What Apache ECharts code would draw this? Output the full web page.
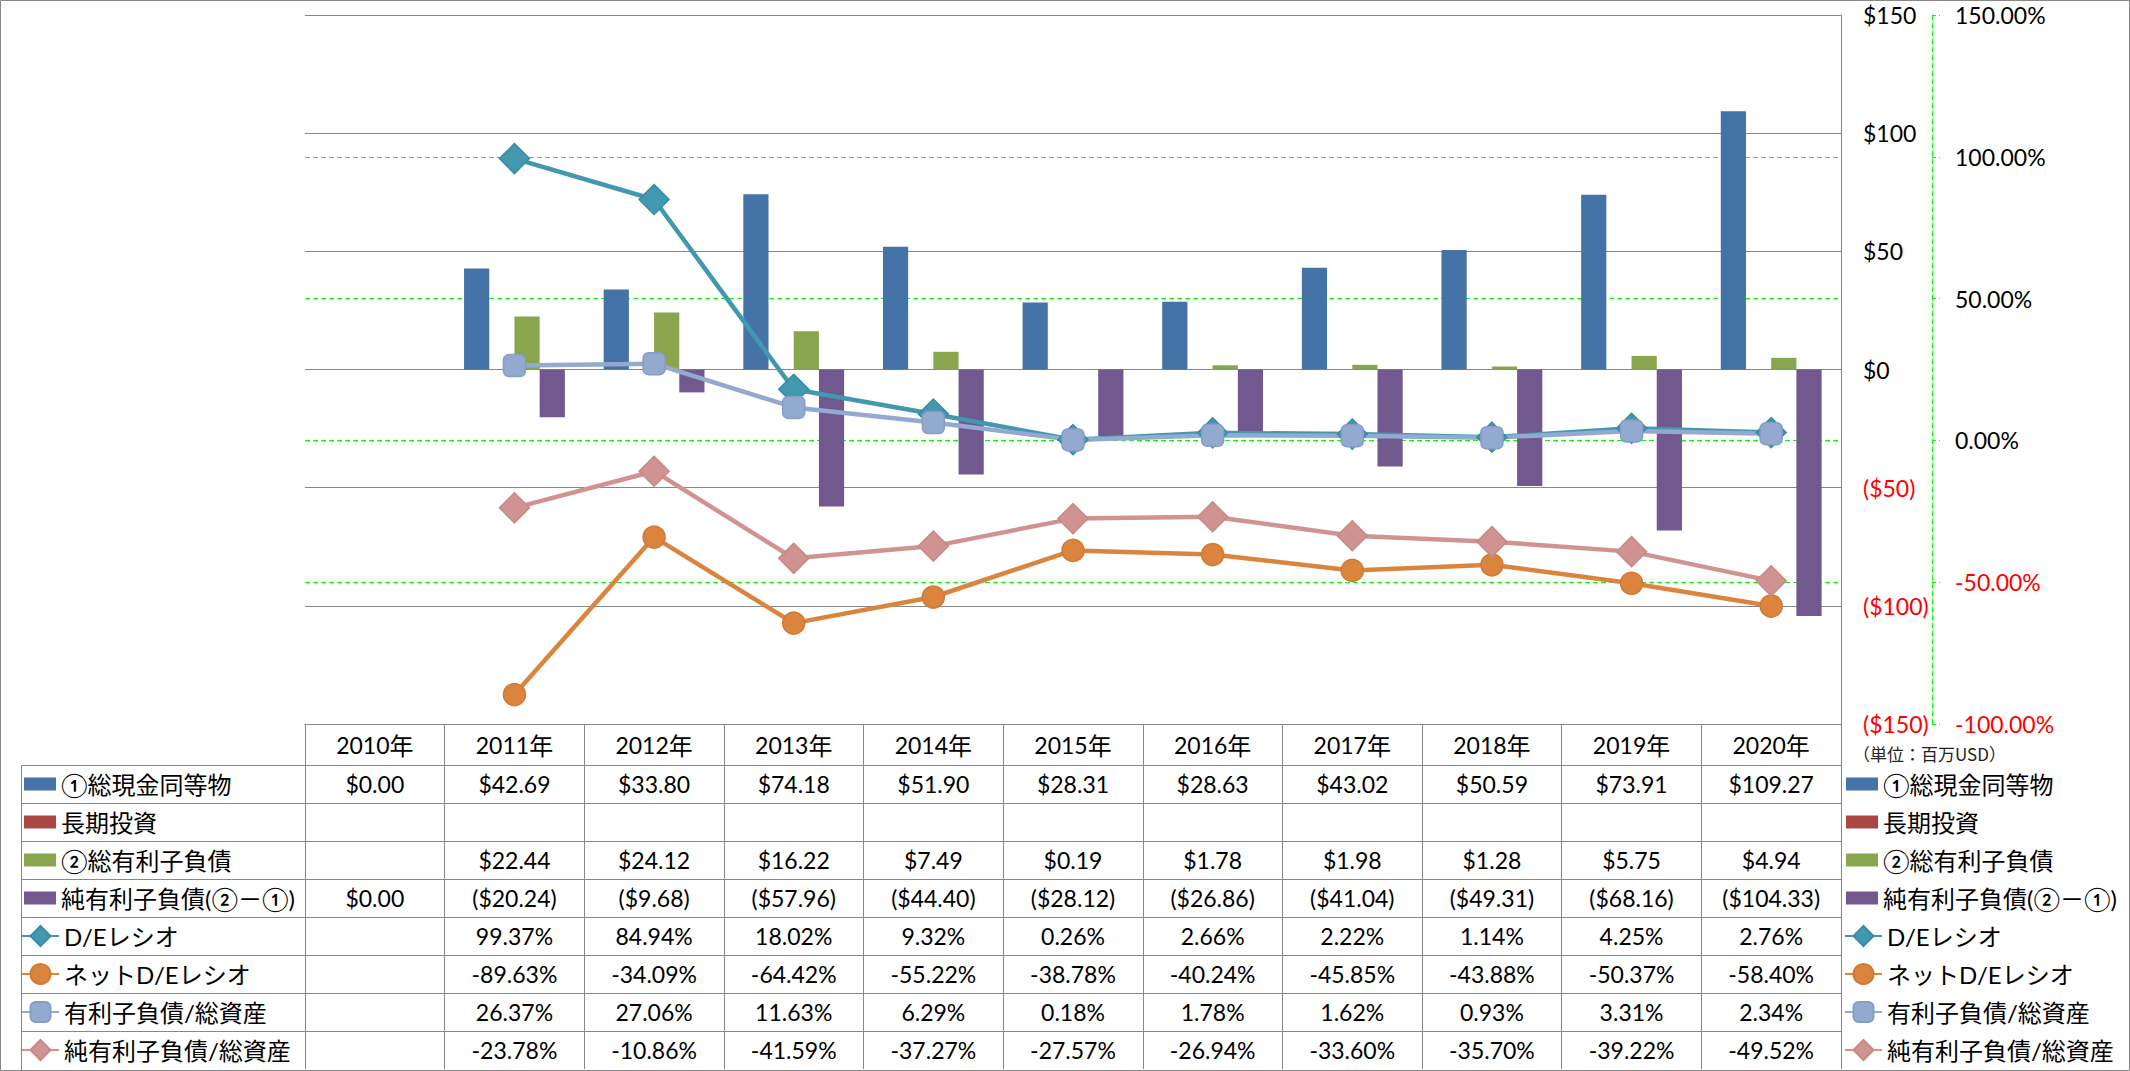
<!DOCTYPE html>
<html><head><meta charset="utf-8">
<script src="https://cdn.jsdelivr.net/npm/echarts@6/dist/echarts.min.js"></script>
<style>html,body{margin:0;padding:0;background:#fff}#c{width:2130px;height:1071px}</style>
</head><body><div id="c"></div>
<script>
// ---- data ----
const years = ['2010年','2011年','2012年','2013年','2014年','2015年','2016年','2017年','2018年','2019年','2020年'];
const cash          = [0.00, 42.69, 33.80, 74.18, 51.90, 28.31, 28.63, 43.02, 50.59, 73.91, 109.27];
const longInv       = [null, null, null, null, null, null, null, null, null, null, null];
const debt          = [null, 22.44, 24.12, 16.22, 7.49, 0.19, 1.78, 1.98, 1.28, 5.75, 4.94];
const netDebt       = [0.00, -20.24, -9.68, -57.96, -44.40, -28.12, -26.86, -41.04, -49.31, -68.16, -104.33];
const deRatio       = [null, 99.37, 84.94, 18.02, 9.32, 0.26, 2.66, 2.22, 1.14, 4.25, 2.76];
const netDeRatio    = [null, -89.63, -34.09, -64.42, -55.22, -38.78, -40.24, -45.85, -43.88, -50.37, -58.40];
const debtToAssets  = [null, 26.37, 27.06, 11.63, 6.29, 0.18, 1.78, 1.62, 0.93, 3.31, 2.34];
const netDebtToAssets = [null, -23.78, -10.86, -41.59, -37.27, -27.57, -26.94, -33.60, -35.70, -39.22, -49.52];

const barNames  = ['①総現金同等物','長期投資','②総有利子負債','純有利子負債(②－①)'];
const lineNames = ['D/Eレシオ','ネットD/Eレシオ','有利子負債/総資産','純有利子負債/総資産'];
const usdAxis = {min: -150, max: 150, step: 50};
const pctAxis = {min: -100, max: 150, step: 50};
const unitText = '（単位：百万USD）';

// ---- styles ----
const GRAY = '#888888';
const GREEN = '#00FF00';
const RED = '#FF0000';
const FONT = "Lato, 'Noto Sans CJK JP', sans-serif";
const CJK = "'Noto Sans CJK JP', sans-serif";
const HEADER_H = 41, ROW_H = 38;
const GL = 305, GR = 1841, GT = 15, GB = 724, W = 2130, H = 1071;
const NUM_SIZE = 23;

const fmtUSD = v => v == null ? '' : (v < 0 ? '($' + (-v).toFixed(2) + ')' : '$' + v.toFixed(2));
const fmtPct = v => v == null ? '' : v.toFixed(2) + '%';
const rows = [
  [cash, fmtUSD], [longInv, fmtUSD], [debt, fmtUSD], [netDebt, fmtUSD],
  [deRatio, fmtPct], [netDeRatio, fmtPct], [debtToAssets, fmtPct], [netDebtToAssets, fmtPct]
];

const xAxes = [{
  type: 'category', data: years, position: 'bottom', gridIndex: 0,
  axisLine: {show: true, onZero: false, lineStyle: {color: GRAY, width: 1}},
  axisTick: {show: true, interval: 0, length: HEADER_H, lineStyle: {color: GRAY, width: 1}},
  axisLabel: {interval: 0, margin: 0, lineHeight: HEADER_H, fontSize: NUM_SIZE, color: '#000', fontFamily: FONT,
    formatter: v => '{n|' + v.replace('年', '') + '}{k|年}',
    rich: {n: {fontSize: NUM_SIZE, fontFamily: FONT, color: '#000', lineHeight: HEADER_H},
           k: {fontSize: 24, fontFamily: CJK, color: '#000', lineHeight: HEADER_H}}},
  splitLine: {show: false}, axisPointer: {show: false}
}];
rows.forEach((r, i) => {
  xAxes.push({
    type: 'category', data: years, position: 'bottom', gridIndex: 0, offset: HEADER_H + ROW_H * i,
    axisLine: {show: true, onZero: false, lineStyle: {color: GRAY, width: 1}},
    axisTick: {show: true, interval: 0, length: ROW_H, lineStyle: {color: GRAY, width: 1}},
    axisLabel: {interval: 0, margin: 0, lineHeight: ROW_H, fontSize: NUM_SIZE, color: '#000', fontFamily: FONT,
      formatter: (v, idx) => r[1](r[0][idx])},
    splitLine: {show: false}, axisPointer: {show: false}
  });
});

const barColors = ['#4572A7', '#AA4643', '#89A54E', '#71588F'];
const barData = [cash, longInv, debt, netDebt];
const lineColors = ['#4198AF', '#DB843D', '#93A9CF', '#D19392'];
const lineBorders = ['#3A8CA2', '#D07A35', '#869DC6', '#C98886'];
const lineData = [deRatio, netDeRatio, debtToAssets, netDebtToAssets];
const lineSymbols = ['diamond', 'circle', 'roundRect', 'diamond'];
const lineSymbolSizes = [30, 22, 22, 30];

const series = [];
barNames.forEach((n, i) => series.push({
  name: n, type: 'bar', xAxisIndex: 0, yAxisIndex: 0, data: barData[i],
  barGap: '0%', barCategoryGap: '27.8%', itemStyle: {color: barColors[i]}
}));
lineNames.forEach((n, i) => series.push({
  name: n, type: 'line', xAxisIndex: 0, yAxisIndex: 1, data: lineData[i],
  symbol: lineSymbols[i], symbolSize: lineSymbolSizes[i],
  lineStyle: {width: 4.5, color: lineColors[i]},
  itemStyle: {color: lineColors[i], borderColor: lineBorders[i], borderWidth: 1.5}
}));

const legendText = {fontSize: 24, lineHeight: ROW_H, fontFamily: FONT, color: '#000'};
const legendBase = {orient: 'vertical', itemGap: 0, padding: 0, selectedMode: false, textStyle: legendText};
const legends = [
  Object.assign({}, legendBase, {data: barNames, icon: 'rect', left: 24, top: GB + HEADER_H, itemWidth: 32, itemHeight: 13}),
  Object.assign({}, legendBase, {data: lineNames, left: 21, top: GB + HEADER_H + ROW_H * 4, itemWidth: 37, itemHeight: 25}),
  Object.assign({}, legendBase, {data: barNames, icon: 'rect', left: 1846, top: GB + HEADER_H, itemWidth: 32, itemHeight: 13}),
  Object.assign({}, legendBase, {data: lineNames, left: 1844, top: GB + HEADER_H + ROW_H * 4, itemWidth: 37, itemHeight: 25})
];

const graphics = [
  {type: 'rect', silent: true, shape: {x: 0.5, y: 0.5, width: W - 1, height: H - 1}, style: {fill: 'none', stroke: GRAY, lineWidth: 1}},
  {type: 'line', silent: true, shape: {x1: 21.5, y1: GB + HEADER_H, x2: 21.5, y2: H}, style: {stroke: GRAY, lineWidth: 1}},
  {type: 'text', silent: true, x: 1853, y: 753, style: {text: unitText, fontSize: 17, fontFamily: CJK, fill: '#222', verticalAlign: 'middle'}}
];
for (let i = 0; i < rows.length; i++) {
  const y = GB + HEADER_H + ROW_H * i + 0.5;
  graphics.push({type: 'line', silent: true, shape: {x1: 21, y1: y, x2: GL, y2: y}, style: {stroke: GRAY, lineWidth: 1}});
}

const chart = echarts.init(document.getElementById('c'), null, {renderer: 'svg'});
chart.setOption({
  animation: false,
  backgroundColor: '#fff',
  grid: {left: GL, right: W - GR, top: GT, bottom: H - GB, containLabel: false, outerBoundsMode: 'none'},
  xAxis: xAxes,
  yAxis: [{
    type: 'value', position: 'right', min: usdAxis.min, max: usdAxis.max, interval: usdAxis.step, z: 1,
    axisLine: {show: true, lineStyle: {color: GRAY, width: 1}},
    axisTick: {show: false},
    splitLine: {show: true, lineStyle: {color: GRAY, width: 1}},
    axisLabel: {margin: 22, fontSize: NUM_SIZE, fontFamily: FONT,
      formatter: v => v < 0 ? '($' + (-v) + ')' : '$' + v,
      color: v => Number(v) < 0 ? RED : '#000'}
  }, {
    type: 'value', position: 'right', offset: 91, min: pctAxis.min, max: pctAxis.max, interval: pctAxis.step, z: 0,
    axisLine: {show: true, lineStyle: {color: GREEN, width: 1, type: [5, 3]}},
    axisTick: {show: true, length: 8, lineStyle: {color: GREEN, width: 1, type: [4, 3]}},
    splitLine: {show: true, showMaxLine: false, showMinLine: false, lineStyle: {color: GREEN, width: 1, type: [5, 3]}},
    axisLabel: {margin: 23, fontSize: NUM_SIZE, fontFamily: FONT,
      formatter: v => Number(v).toFixed(2) + '%',
      color: v => Number(v) < 0 ? RED : '#000'}
  }],
  legend: legends,
  series: series,
  graphic: graphics
});
</script></body></html>
